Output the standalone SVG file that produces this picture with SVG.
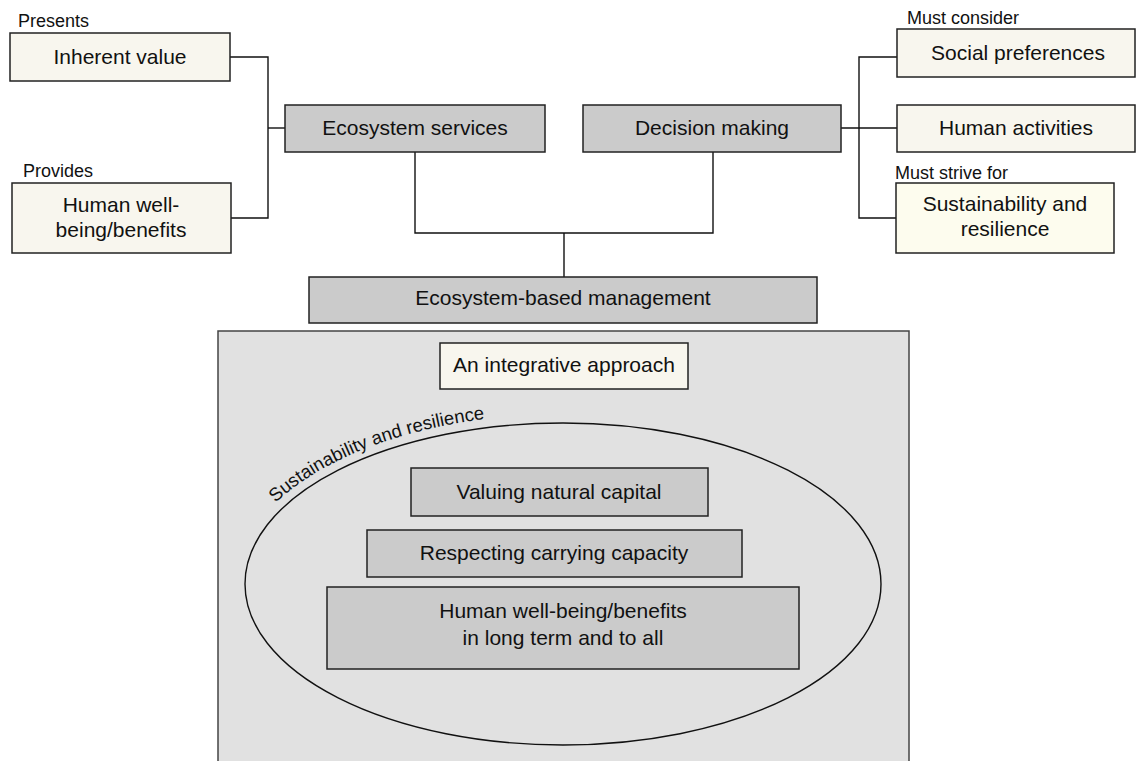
<svg xmlns="http://www.w3.org/2000/svg" width="1136" height="761" viewBox="0 0 1136 761">
<defs>
<style>
text{font-family:"Liberation Sans",Arial,Helvetica,sans-serif;fill:#111}
.lbl{font-size:21px;text-anchor:middle}
.sm{font-size:18px}
.grey{fill:#cbcbcb;stroke:#222;stroke-width:1.5}
.cream{fill:#f8f6ee;stroke:#222;stroke-width:1.5}
.yel{fill:#fdfcee;stroke:#222;stroke-width:1.5}
.conn{fill:none;stroke:#111;stroke-width:1.4}
</style>
<path id="arcpath" d="M 236 584 A 327 170 0 0 1 563 414"/>
</defs>
<rect width="1136" height="761" fill="#ffffff"/>

<g id="connectors" class="conn">
<polyline points="230,57 268,57 268,218 231,218"/>
<line x1="268" y1="128" x2="285" y2="128"/>
<polyline points="415,152 415,233 713,233 713,152"/>
<line x1="564" y1="233" x2="564" y2="277"/>
<line x1="841" y1="128" x2="897" y2="128"/>
<polyline points="897,57 859,57 859,218 896,218"/>
</g>

<g id="inherent-value">
<text class="sm" x="18" y="27">Presents</text>
<rect class="cream" x="10" y="33" width="220" height="48"/>
<text class="lbl" x="120" y="64">Inherent value</text>
</g>
<g id="human-wellbeing">
<text class="sm" x="23" y="177">Provides</text>
<rect class="cream" x="12" y="183" width="219" height="70"/>
<text class="lbl" x="121" y="212">Human well-</text>
<text class="lbl" x="121" y="237">being/benefits</text>
</g>
<g id="ecosystem-services">
<rect class="grey" x="285" y="105" width="260" height="47"/>
<text class="lbl" x="415" y="135">Ecosystem services</text>
</g>
<g id="decision-making">
<rect class="grey" x="583" y="105" width="258" height="47"/>
<text class="lbl" x="712" y="135">Decision making</text>
</g>
<g id="social-preferences">
<text class="sm" x="907" y="24">Must consider</text>
<rect class="cream" x="897" y="29" width="238" height="48"/>
<text class="lbl" x="1018" y="60">Social preferences</text>
</g>
<g id="human-activities">
<rect class="cream" x="897" y="105" width="238" height="47"/>
<text class="lbl" x="1016" y="135">Human activities</text>
</g>
<g id="sustainability-resilience">
<text class="sm" x="895" y="179">Must strive for</text>
<rect class="yel" x="896" y="183" width="218" height="70"/>
<text class="lbl" x="1005" y="211">Sustainability and</text>
<text class="lbl" x="1005" y="236">resilience</text>
</g>
<g id="ecosystem-based-management">
<rect class="grey" x="309" y="277" width="508" height="46"/>
<text class="lbl" x="563" y="305">Ecosystem-based management</text>
</g>
<g id="integrative-panel">
<rect x="218" y="331" width="691" height="440" fill="#e1e1e1" stroke="#444" stroke-width="1.5"/>
</g>
<g id="integrative-approach">
<rect class="cream" x="440" y="343" width="248" height="46"/>
<text class="lbl" x="564" y="372">An integrative approach</text>
</g>
<g id="sustainability-ellipse">
<ellipse cx="563" cy="584" rx="318" ry="161" fill="none" stroke="#111" stroke-width="1.4"/>
<text style="font-size:18.5px"><textPath href="#arcpath" startOffset="93">Sustainability and resilience</textPath></text>
</g>
<g id="valuing-natural-capital">
<rect class="grey" x="411" y="468" width="297" height="48"/>
<text class="lbl" x="559" y="499">Valuing natural capital</text>
</g>
<g id="respecting-carrying-capacity">
<rect class="grey" x="367" y="530" width="375" height="47"/>
<text class="lbl" x="554" y="560">Respecting carrying capacity</text>
</g>
<g id="human-wellbeing-long-term">
<rect class="grey" x="327" y="587" width="472" height="82"/>
<text class="lbl" x="563" y="618">Human well-being/benefits</text>
<text class="lbl" x="563" y="645">in long term and to all</text>
</g>
</svg>
